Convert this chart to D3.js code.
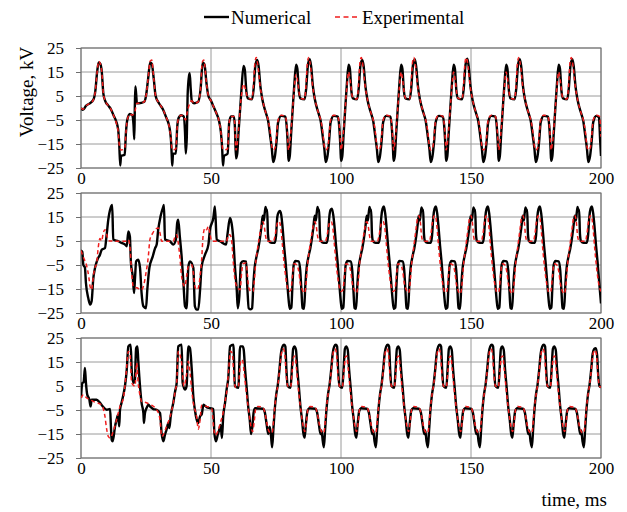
<!DOCTYPE html>
<html>
<head>
<meta charset="utf-8">
<script src="https://cdn.jsdelivr.net/npm/d3@7"></script>
<style>
  body { margin: 0; background: #fff; }
  svg text { font-family: "Liberation Serif", "Tinos", "DejaVu Serif", serif !important; }
</style>
</head>
<body>
<div id="chart"></div>
<script>
// tick labels and series names
const xTicks = [0, 50, 100, 150, 200];
const yTicks = [-25, -15, -5, 5, 15, 25];
const seriesNames = ["Numerical", "Experimental"];

// panel 1 : [time ms, voltage kV]
const p1Num = [[0,0],[0.7,-0.8],[2,1],[3.5,2],[4.8,3.5],[5.5,7],[6.2,15],[6.8,19],[7.4,18.5],[8,15],[8.6,6],[9.3,3],[10.5,1],[11.5,-0.5],[12.5,-3],[13.5,-5.5],[14.3,-9],[14.7,-15],[15.1,-24],[15.4,-20],[16.8,-19.5],[17.3,-10],[17.8,-5],[18.8,-2.5],[19.7,-3],[20.2,-7],[20.5,-13],[20.7,0],[20.9,9],[21.2,6],[21.5,2],[22.3,2],[24.2,2.5],[25,5],[25.8,12],[26.6,19],[27.2,18.5],[28,12],[28.7,5],[30,2],[31.5,-0.5],[32.8,-4],[33.8,-7],[34.3,-10],[34.7,-15],[34.9,-20],[35.1,-24],[35.4,-19],[36.5,-19],[37,-8],[37.6,-4],[38.5,-3],[39.5,-3.5],[40,-10],[40.3,-19],[40.7,-12],[41,5],[41.5,13],[41.8,14.5],[42.2,8],[42.6,3],[43.5,2],[45,2.5],[46,8],[46.8,19],[47.5,18],[48.3,10],[49,5],[50,3],[51,0.5],[52,-2],[53,-5],[53.8,-10],[54.3,-17],[54.6,-24],[55,-20],[56.4,-19],[57,-6],[57.7,-3.5],[58.8,-3.5],[59.2,-8],
  [59.6,-21],[60.1,-19],[60.6,-10],[61.3,1],[61.8,9],[62.5,17.5],[63,16],[63.6,7],[64.2,4],[65.8,3.6],[66.4,8],[67.1,18],[67.8,20],[68.3,17.5],[69,9],[69.8,3.3],[71.1,-2],[72,-5.5],[72.8,-12],[73.4,-17],[73.9,-22.5],[74.6,-20],[75.2,-14],[75.8,-6],[77,-3.3],[78.6,-3.6],[79.2,-9],[79.6,-17],
  [79.8,-22],[80.3,-20],[80.8,-11],[81.5,1],[82,9],[82.7,18],[83.2,16.5],[83.8,7],[84.4,4],[86,3.6],[86.6,8],[87.3,18],[88,20.3],[88.5,17.5],[89.2,9],[90,3.3],[91.3,-2],[92.2,-5.5],[93,-12],[93.6,-17],[94.1,-22.5],[94.8,-20],[95.4,-14],[96,-6],[97.2,-3.3],[98.8,-3.6],[99.4,-9],[99.8,-17],
  [100,-22],[100.5,-20],[101,-11],[101.7,1],[102.2,9],[102.9,18],[103.4,16.5],[104,7],[104.6,4],[106.2,3.6],[106.8,8],[107.5,18],[108.2,20],[108.7,17.5],[109.4,9],[110.2,3.3],[111.5,-2],[112.4,-5.5],[113.2,-12],[113.8,-17],[114.3,-22.5],[115,-20],[115.6,-14],[116.2,-6],[117.4,-3.3],[119,-3.6],[119.6,-9],[120,-17],
  [120.2,-22],[120.7,-20],[121.2,-11],[121.9,1],[122.4,9],[123.1,18],[123.6,16.5],[124.2,7],[124.8,4],[126.4,3.6],[127,8],[127.7,18],[128.4,20.3],[128.9,17.5],[129.6,9],[130.4,3.3],[131.7,-2],[132.6,-5.5],[133.4,-12],[134,-17],[134.5,-22.5],[135.2,-20],[135.8,-14],[136.4,-6],[137.6,-3.3],[139.2,-3.6],[139.8,-9],[140.2,-17],
  [140.4,-22],[140.9,-20],[141.4,-11],[142.1,1],[142.6,9],[143.3,18],[143.8,16.5],[144.4,7],[145,4],[146.6,3.6],[147.2,8],[147.9,18],[148.6,20.5],[149.1,17.5],[149.8,9],[150.6,3.3],[151.9,-2],[152.8,-5.5],[153.6,-12],[154.2,-17],[154.7,-22.5],[155.4,-20],[156,-14],[156.6,-6],[157.8,-3.3],[159.4,-3.6],[160,-9],[160.4,-17],
  [160.6,-22],[161.1,-20],[161.6,-11],[162.3,1],[162.8,9],[163.5,18],[164,16.5],[164.6,7],[165.2,4],[166.8,3.6],[167.4,8],[168.1,18],[168.8,20.3],[169.3,17.5],[170,9],[170.8,3.3],[172.1,-2],[173,-5.5],[173.8,-12],[174.4,-17],[174.9,-22.5],[175.6,-20],[176.2,-14],[176.8,-6],[178,-3.3],[179.6,-3.6],[180.2,-9],[180.6,-17],
  [180.8,-22],[181.3,-20],[181.8,-11],[182.5,1],[183,9],[183.7,18],[184.2,16.5],[184.8,7],[185.4,4],[187,3.6],[187.6,8],[188.3,18],[189,20.3],[189.5,17.5],[190.2,9],[191,3.3],[192.3,-2],[193.2,-5.5],[194,-12],[194.6,-17],[195.1,-22.5],[195.8,-20],[196.4,-14],[197,-6],[198.2,-3.3],[199.2,-4],[199.7,-14],[200,-20]];

const p1Exp = [[0,0],[0.7,-0.5],[2,1],[3.5,2],[4.8,3.5],[5.5,7],[6.2,15],[6.8,19.5],[7.4,18.5],[8,15],[8.6,6],[9.3,3],[10.5,1],[11.5,-0.5],[12.5,-3],[13.5,-6],[14.3,-10],[14.8,-16],[15.4,-17.5],[16.8,-17],[17.3,-10],[17.8,-5],[18.8,-2.5],[19.7,-3],[20.6,-2],[21.5,2],[22.3,2],[24.2,2.5],[25,5],[25.8,12],[26.6,19.5],[27.2,20],[28,12],[28.7,5],[30,2],[31.5,-0.5],[32.8,-4],[33.8,-7],[34.5,-12],[35.1,-17.5],[36.5,-17],[37,-8],[37.6,-4],[38.5,-3],[39.5,-3.5],[40.2,-5],[41,-1],[42.6,3],[43.5,2],[45,2.5],[46,8],[46.6,19],[47.2,20],[48.3,10],[49,5],[50,3],[51,0.5],[52,-2],[53,-5],[53.8,-10],[54.5,-17],[55,-17.5],[56.4,-17],[57,-6],[57.7,-3.5],[58.8,-3.5],[59.2,-8],
  [59.6,-17.5],[60.6,-9],[61.3,1],[61.8,6],[62.5,10],[63.2,8],[63.9,5],[64.4,4],[65.8,3.8],[66.3,9],[66.9,19],[67.4,21],[68.1,17],[68.9,9],[69.8,3.5],[71.1,-2],[72,-5],[72.8,-10],[73.4,-16],[74,-17.5],[74.7,-16.5],[75.2,-12],[75.8,-5],[77,-3],[78.6,-3.5],[79.2,-8],[79.7,-16],
  [79.8,-17.5],[80.8,-9],[81.5,1],[82,8],[82.7,14],[83.4,10.5],[84.1,5],[84.6,4],[86,3.8],[86.5,9],[87.1,19],[87.6,21],[88.3,17],[89.1,9],[90,3.5],[91.3,-2],[92.2,-5],[93,-10],[93.6,-16],[94.2,-17.5],[94.9,-16.5],[95.4,-12],[96,-5],[97.2,-3],[98.8,-3.5],[99.4,-8],[99.9,-16],
  [100,-17.5],[101,-9],[101.7,1],[102.2,8],[102.9,15],[103.6,11],[104.3,5],[104.8,4],[106.2,3.8],[106.7,9],[107.3,19],[107.8,21],[108.5,17],[109.3,9],[110.2,3.5],[111.5,-2],[112.4,-5],[113.2,-10],[113.8,-16],[114.4,-17.5],[115.1,-16.5],[115.6,-12],[116.2,-5],[117.4,-3],[119,-3.5],[119.6,-8],[120.1,-16],
  [120.2,-17.5],[121.2,-9],[121.9,1],[122.4,8],[123.1,15],[123.8,11],[124.5,5],[125,4],[126.4,3.8],[126.9,9],[127.5,19],[128,21],[128.7,17],[129.5,9],[130.4,3.5],[131.7,-2],[132.6,-5],[133.4,-10],[134,-16],[134.6,-17.5],[135.3,-16.5],[135.8,-12],[136.4,-5],[137.6,-3],[139.2,-3.5],[139.8,-8],[140.3,-16],
  [140.4,-17.5],[141.4,-9],[142.1,1],[142.6,8],[143.3,15],[144,11],[144.7,5],[145.2,4],[146.6,3.8],[147.1,9],[147.7,19],[148.2,21],[148.9,17],[149.7,9],[150.6,3.5],[151.9,-2],[152.8,-5],[153.6,-10],[154.2,-16],[154.8,-17.5],[155.5,-16.5],[156,-12],[156.6,-5],[157.8,-3],[159.4,-3.5],[160,-8],[160.5,-16],
  [160.6,-17.5],[161.6,-9],[162.3,1],[162.8,8],[163.5,15],[164.2,11],[164.9,5],[165.4,4],[166.8,3.8],[167.3,9],[167.9,19],[168.4,21],[169.1,17],[169.9,9],[170.8,3.5],[172.1,-2],[173,-5],[173.8,-10],[174.4,-16],[175,-17.5],[175.7,-16.5],[176.2,-12],[176.8,-5],[178,-3],[179.6,-3.5],[180.2,-8],[180.7,-16],
  [180.8,-17.5],[181.8,-9],[182.5,1],[183,8],[183.7,15],[184.4,11],[185.1,5],[185.6,4],[187,3.8],[187.5,9],[188.1,19],[188.6,21],[189.3,17],[190.1,9],[191,3.5],[192.3,-2],[193.2,-5],[194,-10],[194.6,-16],[195.2,-17.5],[195.9,-16.5],[196.4,-12],[197,-5],[198.2,-3],[199.4,-3.5],[200,-12]];

// panel 2
const p2Num = [[0,1],[0.5,0.5],[0.9,-5],[1.5,-6],[1.9,-12.5],[2.8,-18.8],[3.5,-21.5],[4.1,-20],[4.7,-11],[5.4,-6.2],[6.3,-2.8],[7.3,-0.7],[8,1.4],[9.2,2],[9.8,6.9],[10.5,13.9],[11.4,18.8],[12,20],[12.4,5.6],[14.4,4.9],[15.6,4.2],[17,3.5],[17.6,2.8],[18.2,9],[18.8,6.9],[19.2,-4],[19.9,-9.7],[20.4,-16.7],[20.8,-10],[21.2,-3.5],[22,-2.8],[22.7,-6.2],[23.3,-16.7],[24,-22.2],[25,-23],[25.5,-15.3],[26.3,-6.2],[27.6,-1.4],[28.5,2],[29.1,3.5],[29.7,9.7],[30.6,15.3],[31.7,19.4],[31.9,20],[32.3,5.6],[34.2,4.9],[35.5,3.5],[36.5,5.6],[37,12.5],[37.4,13.9],[38,6.9],[38.7,-1.4],[39.4,-12.5],[40,-22.2],[40.6,-23],[41.3,-5.6],[41.9,-3.5],[43.2,-6.2],[43.8,-22.2],[44.5,-23.6],[45.1,-23.6],[45.8,-15.3],[46.4,-5.6],[47.7,-0.7],[49,3.5],[49.6,9.7],[50.9,14.6],[51.5,19.4],[52.2,5.6],[53.5,4.9],[55.8,3.5],[56.4,8.3],[57.3,14.6],[57.9,12.5],[58.6,5.6],[59.2,-5.6],[59.9,-15.3],[60.3,-23],[60.9,-18],[61.5,-4.2],[62.5,-3.4],[63.5,-3.6],[64,-15],[64.5,-23],[65.3,-23.5],[65.8,-23],
  [66.3,-13],[66.8,-6],[67.5,-1.5],[68.2,2],[68.8,6],[69.4,11],[69.9,15.5],[70.3,13.5],[70.7,17],[71,19.2],[71.3,17.5],[71.6,18],[71.9,8],[72.3,5],[73.3,4.2],[74.5,4.2],[75,7],[75.5,15],[76,17],[76.5,17.5],[77,16],[77.5,11],[78.1,3],[78.7,-4],[79.3,-12],[79.9,-20],[80.3,-23.3],[80.9,-22.8],[81.3,-14],[81.8,-5],[82.5,-3.3],[83.7,-3.5],[84.3,-7],[84.8,-16],[85.2,-23],[85.8,-23.3],
  [86.3,-13],[86.8,-6],[87.5,-1.5],[88.2,2],[88.8,6],[89.4,11],[89.9,15.5],[90.3,13.5],[90.7,17],[91,19.2],[91.3,17.5],[91.6,18],[91.9,8],[92.3,5],[93.3,4.2],[94.5,4.2],[95,7],[95.5,15],[96,18],[96.5,18.5],[97,16],[97.5,11],[98.1,3],[98.7,-4],[99.3,-12],[99.9,-20],[100.3,-23.3],[100.9,-22.8],[101.3,-14],[101.8,-5],[102.5,-3.3],[103.7,-3.5],[104.3,-7],[104.8,-16],[105.2,-23],[105.8,-23.3],
  [106.3,-13],[106.8,-6],[107.5,-1.5],[108.2,2],[108.8,6],[109.4,11],[109.9,15.5],[110.3,13.5],[110.7,17],[111,19.2],[111.3,17.5],[111.6,18],[111.9,8],[112.3,5],[113.3,4.2],[114.5,4.2],[115,7],[115.5,15],[116,18.5],[116.5,19.4],[117,16.5],[117.5,11],[118.1,3],[118.7,-4],[119.3,-12],[119.9,-20],[120.3,-23.3],[120.9,-22.8],[121.3,-14],[121.8,-5],[122.5,-3.3],[123.7,-3.5],[124.3,-7],[124.8,-16],[125.2,-23],[125.8,-23.3],
  [126.3,-13],[126.8,-6],[127.5,-1.5],[128.2,2],[128.8,6],[129.4,11],[129.9,15.5],[130.3,13.5],[130.7,17],[131,19],[131.3,17.5],[131.6,18],[131.9,8],[132.3,5],[133.3,4.2],[134.5,4.2],[135,7],[135.5,15],[136,18.5],[136.5,19.4],[137,16.5],[137.5,11],[138.1,3],[138.7,-4],[139.3,-12],[139.9,-20],[140.3,-23.3],[140.9,-22.8],[141.3,-14],[141.8,-5],[142.5,-3.3],[143.7,-3.5],[144.3,-7],[144.8,-16],[145.2,-23],[145.8,-23.3],
  [146.3,-13],[146.8,-6],[147.5,-1.5],[148.2,2],[148.8,6],[149.4,11],[149.9,15.5],[150.3,13.5],[150.7,17],[151,19],[151.3,17.5],[151.6,18],[151.9,8],[152.3,5],[153.3,4.2],[154.5,4.2],[155,7],[155.5,15],[156,18.5],[156.5,19.4],[157,16.5],[157.5,11],[158.1,3],[158.7,-4],[159.3,-12],[159.9,-20],[160.3,-23.3],[160.9,-22.8],[161.3,-14],[161.8,-5],[162.5,-3.3],[163.7,-3.5],[164.3,-7],[164.8,-16],[165.2,-23],[165.8,-23.3],
  [166.3,-13],[166.8,-6],[167.5,-1.5],[168.2,2],[168.8,6],[169.4,11],[169.9,15.5],[170.3,13.5],[170.7,17],[171,19],[171.3,17.5],[171.6,18],[171.9,8],[172.3,5],[173.3,4.2],[174.5,4.2],[175,7],[175.5,15],[176,18.5],[176.5,19.4],[177,16.5],[177.5,11],[178.1,3],[178.7,-4],[179.3,-12],[179.9,-20],[180.3,-23.3],[180.9,-22.8],[181.3,-14],[181.8,-5],[182.5,-3.3],[183.7,-3.5],[184.3,-7],[184.8,-16],[185.2,-23],[185.8,-23.3],
  [186.3,-13],[186.8,-6],[187.5,-1.5],[188.2,2],[188.8,6],[189.4,11],[189.9,15.5],[190.3,13.5],[190.7,17],[191,19.2],[191.3,17.5],[191.6,18],[191.9,8],[192.3,5],[193.3,4.2],[194.5,4.2],[195,7],[195.5,15],[196,18.5],[196.5,19.4],[197,16.5],[197.5,11],[198.1,3],[198.7,-4],[199.3,-12],[200,-21]];

const p2Exp = [[0,1],[1,-2],[2.1,-5],[3,-10],[3.5,-14],[4.1,-15.3],[4.7,-10],[5.4,-6],[6,-4.5],[6.6,2],[7.3,6],[7.9,5],[8.6,8.5],[9.2,9.7],[9.8,8],[10.4,5.6],[11,5],[17,4.9],[18.2,5.6],[18.8,2.8],[19.4,-7],[20.1,-13.9],[21.5,-14.5],[23.3,-15.3],[24,-13.9],[25,-8.3],[25.9,-1.4],[26.5,5.6],[27.6,8.3],[28.5,9.7],[29.7,10.4],[30.4,8.3],[31,4.9],[35.5,4.9],[36.2,6.9],[36.8,7.6],[37.4,4.2],[38,-1.4],[38.7,-9.7],[39.4,-13.2],[40,-13.9],[40.6,-9.7],[41.3,-5.6],[42.6,-4.9],[43.2,-8.3],[43.8,-13.9],[44.5,-15.3],[45.1,-14.6],[45.8,-9.7],[46.4,-2.8],[47,7.6],[47.7,10.4],[48.3,9.7],[49,11.1],[49.6,8],[50.3,4.9],[56,4.9],[56.7,7.6],[57.3,7.6],[57.9,5.6],[58.6,-4.2],[59.2,-11],[59.9,-13.9],[61.2,-15.3],[61.8,-8],[62.3,-4.5],[63.5,-4.2],[64,-9],[64.5,-14.5],[65.4,-16],
  [66.2,-16],[66.7,-11],[67.2,-4],[67.8,1],[68.5,6],[69.1,10],[69.5,12.5],[70,13],[70.5,11],[71,7],[71.6,4.9],[74,4.9],[74.6,7],[75.2,11],[75.8,13],[76.3,13],[76.9,10],[77.5,3],[78.1,-4],[78.7,-9.7],[79.3,-13.9],[80,-16],[80.7,-15.5],[81.3,-10],[81.9,-4.5],[83,-4.9],[83.8,-8],[84.4,-13],[85.1,-15.3],[85.8,-16.7],
  [86.2,-16],[86.7,-11],[87.2,-4],[87.8,1],[88.5,6],[89.1,10],[89.5,12.5],[90,13],[90.5,11],[91,7],[91.6,4.9],[94,4.9],[94.6,7],[95.2,11],[95.8,13],[96.3,13],[96.9,10],[97.5,3],[98.1,-4],[98.7,-9.7],[99.3,-13.9],[100,-16],[100.7,-15.5],[101.3,-10],[101.9,-4.5],[103,-4.9],[103.8,-8],[104.4,-13],[105.1,-15.3],[105.8,-16.7],
  [106.2,-16],[106.7,-11],[107.2,-4],[107.8,1],[108.5,6],[109.1,10],[109.5,12.5],[110,13],[110.5,11],[111,7],[111.6,4.9],[114,4.9],[114.6,7],[115.2,11],[115.8,13],[116.3,13],[116.9,10],[117.5,3],[118.1,-4],[118.7,-9.7],[119.3,-13.9],[120,-16],[120.7,-15.5],[121.3,-10],[121.9,-4.5],[123,-4.9],[123.8,-8],[124.4,-13],[125.1,-15.3],[125.8,-16.7],
  [126.2,-16],[126.7,-11],[127.2,-4],[127.8,1],[128.5,7],[129.1,12],[129.5,15],[130,15.5],[130.5,13],[131,7],[131.6,4.9],[134,4.9],[134.6,8],[135.2,13],[135.8,15.5],[136.3,15.5],[136.9,11],[137.5,3],[138.1,-4],[138.7,-9.7],[139.3,-13.9],[140,-16.5],[140.7,-16],[141.3,-10],[141.9,-4.5],[143,-4.9],[143.8,-8],[144.4,-13],[145.1,-15.8],[145.8,-17],
  [146.2,-16],[146.7,-11],[147.2,-4],[147.8,1],[148.5,7],[149.1,12],[149.5,15],[150,15.5],[150.5,13],[151,7],[151.6,4.9],[154,4.9],[154.6,8],[155.2,13],[155.8,15.5],[156.3,15.5],[156.9,11],[157.5,3],[158.1,-4],[158.7,-9.7],[159.3,-13.9],[160,-16.5],[160.7,-16],[161.3,-10],[161.9,-4.5],[163,-4.9],[163.8,-8],[164.4,-13],[165.1,-15.8],[165.8,-17],
  [166.2,-16],[166.7,-11],[167.2,-4],[167.8,1],[168.5,7],[169.1,12],[169.5,15],[170,15.5],[170.5,13],[171,7],[171.6,4.9],[174,4.9],[174.6,8],[175.2,13],[175.8,15.5],[176.3,15.5],[176.9,11],[177.5,3],[178.1,-4],[178.7,-9.7],[179.3,-13.9],[180,-16.5],[180.7,-16],[181.3,-10],[181.9,-4.5],[183,-4.9],[183.8,-8],[184.4,-13],[185.1,-15.8],[185.8,-17],
  [186.2,-16],[186.7,-11],[187.2,-4],[187.8,1],[188.5,7],[189.1,12],[189.5,15],[190,15.5],[190.5,13],[191,7],[191.6,4.9],[194,4.9],[194.6,8],[195.2,13],[195.8,15.5],[196.3,15.5],[196.9,11],[197.5,3],[198.1,-4],[198.7,-9.7],[199.3,-13.9],[200,-16]];

// panel 3
const p3Num = [[0,0],[0.5,6.3],[1,6.5],[1.5,12.5],[1.9,6.3],[2.4,1.4],[3.2,-0.5],[3.7,-3.5],[4.1,-0.7],[6,-0.7],[7.3,-2],[8.6,-3.8],[9.9,-4.9],[11.2,-4.6],[11.5,-11.8],[11.8,-17.4],[12.2,-18],[13.1,-11.8],[13.7,-9],[14.3,-7],[14.7,-11.8],[15,-4.9],[15.6,-2],[16.3,1.4],[16.9,4.9],[17.6,11.8],[18.2,21.5],[19.1,22.2],[19.5,11.8],[20.1,6.3],[20.7,7],[21.2,20.8],[21.7,21.5],[22,16],[22.7,4.9],[23.3,-2],[24,-6.3],[24.2,-10.4],[24.6,-6.3],[25.2,-4.2],[25.9,-2.8],[26.5,-3.5],[27.8,-4.6],[29.1,-4.9],[30.4,-6.3],[31,-14.6],[31.7,-18],[32.3,-15.3],[32.9,-13.2],[33.6,-10.4],[34,-12.5],[34.5,-7.6],[35.5,-2],[36.2,2.8],[36.8,6.3],[37.4,21.5],[38.7,22.2],[39.1,6.3],[40,3.5],[40.6,4.9],[41.3,21.5],[41.9,20.8],[42.6,11.8],[43.2,0.7],[43.8,-4.9],[44.5,-9],[45.1,-10.4],[45.8,-7.6],[46.4,-6.9],[47.1,-2.8],[48.3,-3.8],[49.6,-4.2],[50.9,-4.6],[51.3,-14.6],[51.9,-18],[52.6,-15.3],[53.2,-13.2],[53.7,-11.2],[54.2,-16.7],[54.7,-7.6],[55.4,-2],[56,3.5],[56.7,9],[57.3,21.5],[58.6,22.2],[59.2,4.9],[60.5,4.2],[61.2,21.5],[62.2,21.5],
  [62.6,20],[63.1,12],[63.7,4.5],[64.3,-3.5],[64.9,-9],[65.4,-15],[65.9,-12],[66.4,-6],[67,-4.3],[70,-4.5],[70.7,-6],[71.4,-11],[72,-15],[72.6,-12],[73.1,-16],[73.5,-20.5],
  [74,-13],[74.5,-5],[75.1,1.5],[75.7,5.5],[76.3,11.5],[76.9,18.5],[77.5,21.5],[78.1,22.2],[78.6,21.5],[79,12],[79.5,5],[80.6,4.2],[81.1,12],[81.6,20.5],[82.1,21.5],[82.7,20],[83.2,12],[83.8,4.5],[84.4,-3.5],[85,-9],[85.5,-14.5],[86,-16.5],[86.5,-11],[87.1,-5.5],[87.9,-4.3],[90.1,-4.5],[90.8,-6],[91.5,-11],[92.1,-15],[92.5,-13.5],[93,-18],
  [93.4,-20.5],[93.9,-13],[94.4,-5],[95,1.5],[95.6,5.5],[96.2,11.5],[96.8,18.5],[97.4,21.5],[98,22.2],[98.5,21.5],[98.9,12],[99.4,5],[100.5,4.2],[101,12],[101.5,20.5],[102,21.5],[102.6,20],[103.1,12],[103.7,4.5],[104.3,-3.5],[104.9,-9],[105.4,-14.5],[105.9,-16.5],[106.4,-11],[107,-5.5],[107.8,-4.3],[110,-4.5],[110.7,-6],[111.4,-11],[112,-15],[112.4,-13.5],[112.9,-18],
  [113.4,-20.5],[113.9,-13],[114.4,-5],[115,1.5],[115.6,5.5],[116.2,11.5],[116.8,18.5],[117.4,21.5],[118,22.2],[118.5,21.5],[118.9,12],[119.4,5],[120.5,4.2],[121,12],[121.5,20.5],[122,21.5],[122.6,20],[123.1,12],[123.7,4.5],[124.3,-3.5],[124.9,-9],[125.4,-14.5],[125.9,-16.5],[126.4,-11],[127,-5.5],[127.8,-4.3],[130,-4.5],[130.7,-6],[131.4,-11],[132,-15],[132.4,-13.5],[132.9,-18],
  [133.4,-20.5],[133.9,-13],[134.4,-5],[135,1.5],[135.6,5.5],[136.2,11.5],[136.8,18.5],[137.4,21.5],[138,22.2],[138.5,21.5],[138.9,12],[139.4,5],[140.5,4.2],[141,12],[141.5,20.5],[142,21.5],[142.6,20],[143.1,12],[143.7,4.5],[144.3,-3.5],[144.9,-9],[145.4,-14.5],[145.9,-16.5],[146.4,-11],[147,-5.5],[147.8,-4.3],[150,-4.5],[150.7,-6],[151.4,-11],[152,-15],[152.4,-13.5],[152.9,-18],
  [153.4,-20.5],[153.9,-13],[154.4,-5],[155,1.5],[155.6,5.5],[156.2,11.5],[156.8,18.5],[157.4,21.5],[158,22.2],[158.5,21.5],[158.9,12],[159.4,5],[160.5,4.2],[161,12],[161.5,20.5],[162,21.5],[162.6,20],[163.1,12],[163.7,4.5],[164.3,-3.5],[164.9,-9],[165.4,-14.5],[165.9,-16.5],[166.4,-11],[167,-5.5],[167.8,-4.3],[170,-4.5],[170.7,-6],[171.4,-11],[172,-15],[172.4,-13.5],[172.9,-18],
  [173.4,-20.5],[173.9,-13],[174.4,-5],[175,1.5],[175.6,5.5],[176.2,11.5],[176.8,18.5],[177.4,21.5],[178,22.2],[178.5,21.5],[178.9,12],[179.4,5],[180.5,4.2],[181,12],[181.5,20.5],[182,21.5],[182.6,20],[183.1,12],[183.7,4.5],[184.3,-3.5],[184.9,-9],[185.4,-14.5],[185.9,-16.5],[186.4,-11],[187,-5.5],[187.8,-4.3],[190,-4.5],[190.7,-6],[191.4,-11],[192,-15],[192.4,-13.5],[192.9,-18],
  [193.4,-20.5],[193.9,-13],[194.4,-5],[195,1.5],[195.6,5.5],[196.2,11.5],[196.8,18.5],[197.4,20.5],[198,20.8],[198.5,18],[198.9,10],[199.4,5],[200,4.5]];

const p3Exp = [[0,0],[0.9,1.4],[2.2,0],[3.5,-0.7],[4.9,-1.5],[6.2,-2],[8,-3],[9.2,-7.6],[9.9,-13.2],[10.5,-16],[11.2,-16.7],[12.4,-14],[13.7,-9],[15,-3.5],[16.3,0],[16.9,4.9],[17.5,12],[18.2,19.4],[18.8,18.8],[19.5,6.3],[20.8,5],[21.4,14.6],[22,6.3],[22.7,1],[23.3,-1.4],[25.2,-2],[27.1,-3],[29.1,-4.9],[30.4,-9],[31,-16],[31.7,-15.3],[32.9,-11.8],[34.2,-8],[35.5,-2],[36.2,2.8],[36.8,6.3],[37.4,19.4],[38.7,14.6],[39.6,4.9],[40.6,10],[41.3,15.3],[42,10],[42.6,3],[43.2,-2],[44.5,-8],[45.1,-13],[45.8,-9],[46.4,-3],[48.3,-3.5],[50.3,-4.5],[51,-12],[51.6,-15.5],[52.6,-14],[53.7,-10],[54.7,-6],[55.4,-1.5],[56.2,4],[56.8,12],[57.5,19.5],[58.2,18.5],[58.8,9],[59.4,4.5],[60.5,4.5],[61,11],[61.6,16],[62.2,15.5],[62.8,10],[63.4,4],
  [64.1,-2],[64.8,-8],[65.4,-12],[66,-14],[66.6,-10],[67.2,-4.5],[68,-3.5],[70,-4],[70.7,-6],[71.4,-10],[72,-13],[72.9,-14.5],
  [73.5,-14.5],[74.1,-9],[74.6,-3],[75.2,2],[75.8,6],[76.4,12],[77,18],[77.7,20.5],[78.3,19],[78.9,10],[79.5,5],[80.6,4.5],[81.2,11],[81.8,17],[82.3,17.5],[82.9,12],[83.5,5],[84.2,-2],[84.9,-8],[85.5,-12],[86.1,-14],[86.7,-10],[87.3,-4.5],[88.1,-3.5],[90.1,-4],[90.8,-6],[91.5,-10],[92.1,-13],[93,-14.5],
  [93.4,-14.5],[94,-9],[94.5,-3],[95.1,2],[95.7,6],[96.3,12],[96.9,18],[97.6,20.5],[98.2,19],[98.8,10],[99.4,5],[100.5,4.5],[101.1,11],[101.7,17],[102.2,17.5],[102.8,12],[103.4,5],[104.1,-2],[104.8,-8],[105.4,-12],[106,-14],[106.6,-10],[107.2,-4.5],[108,-3.5],[110,-4],[110.7,-6],[111.4,-10],[112,-13],[112.9,-14.5],
  [113.4,-14.5],[114,-9],[114.5,-3],[115.1,2],[115.7,6],[116.3,12],[116.9,18],[117.6,20.5],[118.2,19],[118.8,10],[119.4,5],[120.5,4.5],[121.1,11],[121.7,17],[122.2,17.5],[122.8,12],[123.4,5],[124.1,-2],[124.8,-8],[125.4,-12],[126,-14],[126.6,-10],[127.2,-4.5],[128,-3.5],[130,-4],[130.7,-6],[131.4,-10],[132,-13],[132.9,-14.5],
  [133.4,-14.5],[134,-9],[134.5,-3],[135.1,2],[135.7,6],[136.3,12],[136.9,18],[137.6,20.5],[138.2,19],[138.8,10],[139.4,5],[140.5,4.5],[141.1,11],[141.7,17],[142.2,17.5],[142.8,12],[143.4,5],[144.1,-2],[144.8,-8],[145.4,-12],[146,-14],[146.6,-10],[147.2,-4.5],[148,-3.5],[150,-4],[150.7,-6],[151.4,-10],[152,-13],[152.9,-14.5],
  [153.4,-14.5],[154,-9],[154.5,-3],[155.1,2],[155.7,6],[156.3,12],[156.9,18],[157.6,20.5],[158.2,19],[158.8,10],[159.4,5],[160.5,4.5],[161.1,11],[161.7,17],[162.2,17.5],[162.8,12],[163.4,5],[164.1,-2],[164.8,-8],[165.4,-12],[166,-14],[166.6,-10],[167.2,-4.5],[168,-3.5],[170,-4],[170.7,-6],[171.4,-10],[172,-13],[172.9,-14.5],
  [173.4,-14.5],[174,-9],[174.5,-3],[175.1,2],[175.7,6],[176.3,12],[176.9,18],[177.6,20.5],[178.2,19],[178.8,10],[179.4,5],[180.5,4.5],[181.1,11],[181.7,17],[182.2,17.5],[182.8,12],[183.4,5],[184.1,-2],[184.8,-8],[185.4,-12],[186,-14],[186.6,-10],[187.2,-4.5],[188,-3.5],[190,-4],[190.7,-6],[191.4,-10],[192,-13],[192.9,-14.5],
  [193.4,-14.5],[194,-9],[194.5,-3],[195.1,2],[195.7,6],[196.3,12],[196.9,18],[197.6,20],[198.2,18.5],[198.8,10],[199.4,5],[200,4.5]];

const panels = [[p1Num, p1Exp], [p2Num, p2Exp], [p3Num, p3Exp]];

// dimensions
var width = 627, height = 512;
var margin = {left: 81, right: 26};
var panelTop = [48, 193, 338], panelH = 120;
var colors = ["#000000", "#f01e1e"];
var serif = '"Liberation Serif", "Tinos", "DejaVu Serif", serif';

var svg = d3.select("#chart")
    .append("svg")
    .attr("width", width)
    .attr("height", height)
    .attr("font-family", serif);

const x = d3.scaleLinear()
    .domain([0, 200])
    .range([margin.left, width - margin.right]);

panels.forEach((series, i) => {
    const top = panelTop[i];
    const y = d3.scaleLinear()
        .domain([-25, 25])
        .range([top + panelH, top]);

    const g = svg.append("g");

    // clip
    g.append("clipPath").attr("id", "clip" + i)
        .append("rect")
        .attr("x", x(0)).attr("y", y(25))
        .attr("width", x(200) - x(0)).attr("height", y(-25) - y(25));

    // grid
    g.append("g")
        .selectAll("line")
        .data(yTicks)
        .join("line")
        .attr("x1", x(0)).attr("x2", x(200))
        .attr("y1", d => y(d)).attr("y2", d => y(d))
        .attr("stroke", "#9a9a9a");
    g.append("g")
        .selectAll("line")
        .data(xTicks)
        .join("line")
        .attr("x1", d => x(d)).attr("x2", d => x(d))
        .attr("y1", y(25)).attr("y2", y(-25))
        .attr("stroke", "#9a9a9a");

    // frame
    g.append("rect")
        .attr("x", x(0)).attr("y", y(25))
        .attr("width", x(200) - x(0)).attr("height", y(-25) - y(25))
        .attr("fill", "none")
        .attr("stroke", "#6e6e6e");

    // y axis
    g.append("g")
        .attr("transform", `translate(${x(0)},0)`)
        .call(d3.axisLeft(y).tickValues(yTicks).tickSize(5).tickPadding(12).tickFormat(d3.format("d")))
        .attr("font-family", serif)
        .call(a => a.select(".domain").remove())
        .call(a => a.selectAll("line").attr("stroke", "#6e6e6e"))
        .call(a => a.selectAll("text").attr("font-size", "17px").attr("fill", "#000"));

    // x axis
    g.append("g")
        .attr("transform", `translate(0,${y(-25)})`)
        .call(d3.axisBottom(x).tickValues(xTicks).tickSize(0).tickPadding(4))
        .attr("font-family", serif)
        .call(a => a.select(".domain").remove())
        .call(a => a.selectAll("text").attr("font-size", "17px").attr("fill", "#000"));

    const line = d3.line()
        .x(d => x(d[0]))
        .y(d => y(d[1]))
        .curve(d3.curveMonotoneX);

    // numerical then experimental on top
    g.append("path")
        .datum(series[0])
        .attr("clip-path", `url(#clip${i})`)
        .attr("fill", "none")
        .attr("stroke", colors[0])
        .attr("stroke-width", 2.4)
        .attr("stroke-linejoin", "round")
        .attr("d", line);
    g.append("path")
        .datum(series[1])
        .attr("clip-path", `url(#clip${i})`)
        .attr("fill", "none")
        .attr("stroke", colors[1])
        .attr("stroke-width", 1.5)
        .attr("stroke-dasharray", "4,3")
        .attr("d", line);
});

// legend
var legend = svg.append("g");
var legendX = [204, 335];
seriesNames.forEach((name, i) => {
    legend.append("line")
        .attr("x1", legendX[i]).attr("x2", legendX[i] + 25)
        .attr("y1", 17).attr("y2", 17)
        .attr("stroke", colors[i])
        .attr("stroke-width", i == 0 ? 2.4 : 1.5)
        .attr("stroke-dasharray", i == 0 ? null : "5,3.5");
    legend.append("text")
        .attr("x", legendX[i] + 27)
        .attr("y", 24)
        .attr("font-size", "19px")
        .text(name);
});

// axis titles
svg.append("text")
    .attr("transform", "translate(33,92) rotate(-90)")
    .attr("text-anchor", "middle")
    .attr("font-size", "19px")
    .text("Voltage, kV");

svg.append("text")
    .attr("x", 607)
    .attr("y", 506)
    .attr("text-anchor", "end")
    .attr("font-size", "19px")
    .text("time, ms");
</script>
</body>
</html>
